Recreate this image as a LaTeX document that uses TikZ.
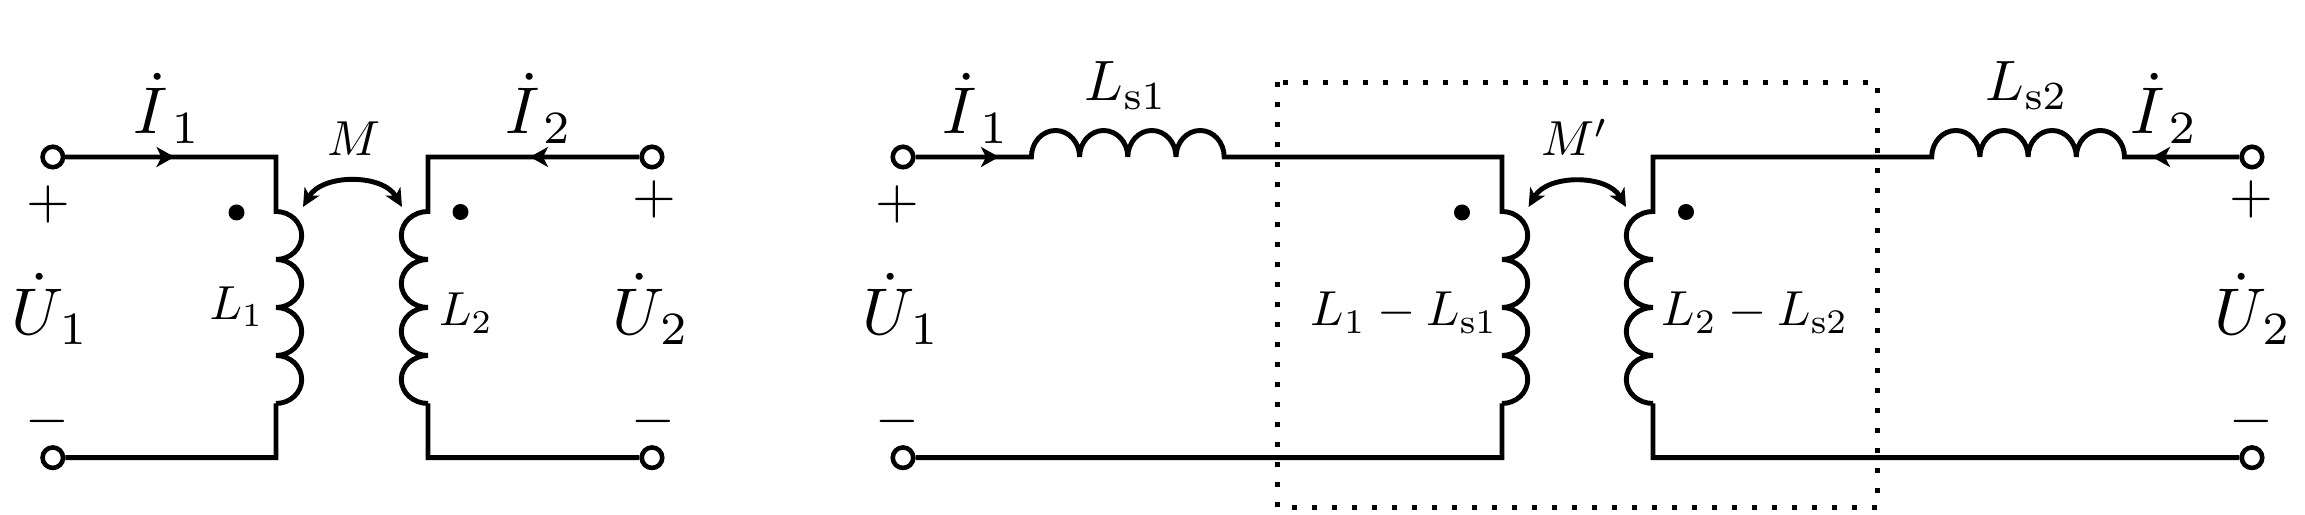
\documentclass[tikz,border=0pt]{standalone}
\usepackage{amsmath}
\usetikzlibrary{positioning,arrows.meta}

\tikzset{
  wire/.style={line width=1.4pt},
  terminal/.style={circle,draw,line width=1.3pt,fill=white,inner sep=0pt,minimum size=0.205cm},
  polarity/.style={circle,fill=black,inner sep=0pt,minimum size=0.16cm},
  bigmath/.style={scale=1.88,anchor=base,inner sep=0pt},
  leakmath/.style={scale=1.62,anchor=base,inner sep=0pt},
  midmath/.style={scale=1.40,anchor=base,inner sep=0pt},
  smallmath/.style={scale=1.36,anchor=base,inner sep=0pt},
  signmath/.style={scale=1.6,inner sep=0pt},
  current/.style={wire,-{Stealth[length=0.18cm,width=0.2cm,inset=0.05cm]}},
  mutual/.style={wire,{Stealth[length=0.18cm,width=0.17cm,inset=0.05cm]}-{Stealth[length=0.18cm,width=0.17cm,inset=0.05cm]}},
  coilright/.style={start angle=90,end angle=-90,x radius=0.257,y radius=0.24},
  coilleft/.style={start angle=90,end angle=270,x radius=0.267,y radius=0.24},
  coilup/.style={start angle=180,end angle=0,x radius=0.241,y radius=0.265},
  coilback/.style={start angle=0,end angle=180,x radius=0.241,y radius=0.265},
  dotbox/.style={line width=1.42pt,dash pattern=on 1.42pt off 4.27pt}
}

\begin{document}
\begin{tikzpicture}
\useasboundingbox (0,0) rectangle (23.05,5.15);

\def\ytop{3.58}
\def\ybot{0.573}
\def\ycoil{3.035}
\def\ycend{1.115}

% left circuit
\node[terminal] (ta) at (0.528,\ytop) {};
\node[terminal] (tb) at (0.528,\ybot) {};
\node[terminal] (tc) at (6.52,\ytop) {};
\node[terminal] (td) at (6.52,\ybot) {};
\coordinate (ka) at (2.76,\ytop);
\coordinate (kb) at (2.76,\ycoil);
\coordinate (kc) at (2.76,\ycend);
\coordinate (kd) at (2.76,\ybot);
\coordinate (ke) at (4.28,\ytop);
\coordinate (kf) at (4.28,\ycoil);
\coordinate (kg) at (4.28,\ycend);
\coordinate (kh) at (4.28,\ybot);

\draw[wire] (ta) -- (ka) -- (kb)
  arc[coilright] arc[coilright] arc[coilright] arc[coilright]
  -- (kc) -- (kd) -- (tb);
\draw[wire] (tc) -- (ke) -- (kf)
  arc[coilleft] arc[coilleft] arc[coilleft] arc[coilleft]
  -- (kg) -- (kh) -- (td);

\coordinate (aa) at (1.745,\ytop);
\coordinate (ab) at (5.30,\ytop);
\draw[current] (ta) -- (aa);
\draw[current] (tc) -- (ab);

\node[polarity] (pa) at (2.365,3.025) {};
\node[polarity] (pb) at (4.605,3.03) {};

\coordinate (ma) at (3.03,3.08);
\coordinate (mb) at (4.02,3.08);
\draw[mutual] (ma) to [out=60, in=120] (mb);

\node[bigmath] (ia) at (1.675,3.81) {$\dot{I}_{\,1}$};
\node[bigmath] (ib) at (5.39,3.81) {$\dot{I}_{\,2}$};
\node[bigmath] (ua) at (0.505,1.805) {$\dot{U}_{\mkern1mu 1}$};
\node[bigmath] (ub) at (6.51,1.805) {$\dot{U}_{\mkern1mu 2}$};
\node[midmath] (mm) at (3.54,3.59) {$M$};
\node[smallmath] (la) at (2.365,1.955) {$L_1$};
\node[smallmath] (lb) at (4.66,1.89) {$L_2$};
\node[signmath] (sa) at (0.48,3.11) {$+$};
\node[signmath] (sb) at (0.47,0.935) {$-$};
\node[signmath] (sc) at (6.54,3.16) {$+$};
\node[signmath] (sd) at (6.53,0.935) {$-$};

% right circuit
\coordinate (bxa) at (12.773,4.327);
\coordinate (bxb) at (18.773,0.075);
\draw[dotbox] (bxa) rectangle (bxb);

\node[terminal] (te) at (9.03,\ytop) {};
\node[terminal] (tf) at (9.03,\ybot) {};
\node[terminal] (tg) at (22.52,\ytop) {};
\node[terminal] (th) at (22.52,\ybot) {};
\coordinate (na) at (10.314,\ytop);
\coordinate (nb) at (15.02,\ytop);
\coordinate (nc) at (15.02,\ycoil);
\coordinate (nd) at (15.02,\ycend);
\coordinate (ne) at (15.02,\ybot);
\coordinate (nf) at (16.53,\ytop);
\coordinate (ng) at (16.53,\ycoil);
\coordinate (nh) at (16.53,\ycend);
\coordinate (ni) at (16.53,\ybot);
\coordinate (nj) at (21.245,\ytop);

\draw[wire] (te) -- (na)
  arc[coilup] arc[coilup] arc[coilup] arc[coilup]
  -- (nb) -- (nc)
  arc[coilright] arc[coilright] arc[coilright] arc[coilright]
  -- (nd) -- (ne) -- (tf);
\draw[wire] (tg) -- (nj)
  arc[coilback] arc[coilback] arc[coilback] arc[coilback]
  -- (nf) -- (ng)
  arc[coilleft] arc[coilleft] arc[coilleft] arc[coilleft]
  -- (nh) -- (ni) -- (th);

\coordinate (ac) at (9.99,\ytop);
\coordinate (ad) at (21.52,\ytop);
\draw[current] (te) -- (ac);
\draw[current] (tg) -- (ad);

\node[polarity] (pc) at (14.62,3.025) {};
\node[polarity] (pd) at (16.86,3.03) {};

\coordinate (mc) at (15.286,3.08);
\coordinate (md) at (16.26,3.08);
\draw[mutual] (mc) to [out=60, in=120] (md);

\node[bigmath] (ic) at (9.76,3.81) {$\dot{I}_{\,1}$};
\node[bigmath] (id) at (21.645,3.81) {$\dot{I}_{\,2}$};
\node[bigmath] (uc) at (9.015,1.805) {$\dot{U}_{\mkern1mu 1}$};
\node[bigmath] (ud) at (22.53,1.805) {$\dot{U}_{\mkern1mu 2}$};
\node[midmath] (mp) at (15.75,3.59) {$M'$};
\node[leakmath] (lc) at (11.26,4.144) {$L_{\mathrm{s}1}$};
\node[leakmath] (ld) at (20.27,4.144) {$L_{\mathrm{s}2}$};
\node[midmath] (le) at (14.04,1.89) {$L_1-L_{\mathrm{s}1}$};
\node[midmath] (lf) at (17.55,1.89) {$L_2-L_{\mathrm{s}2}$};
\node[signmath] (se) at (8.973,3.11) {$+$};
\node[signmath] (sf) at (8.973,0.935) {$-$};
\node[signmath] (sg) at (22.517,3.16) {$+$};
\node[signmath] (sh) at (22.517,0.935) {$-$};

\end{tikzpicture}
\end{document}
